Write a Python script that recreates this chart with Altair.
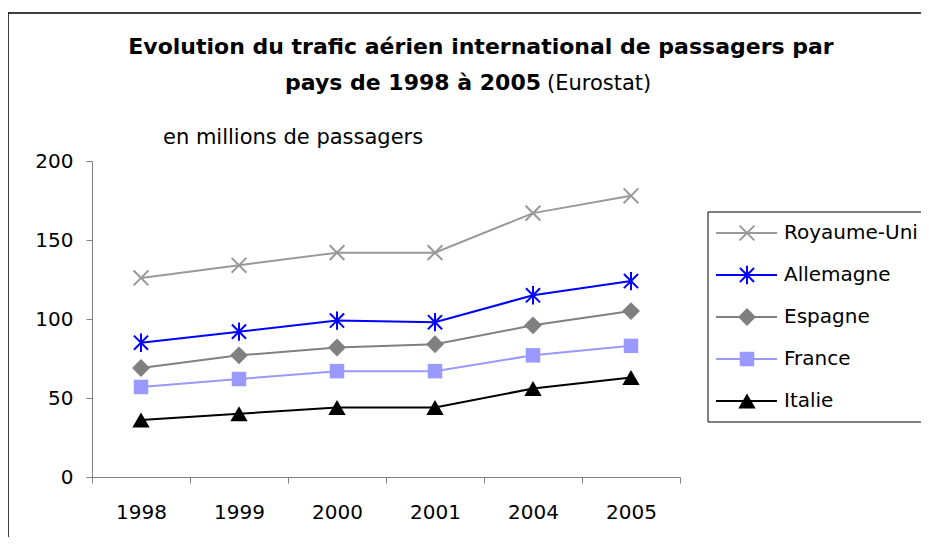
import altair as alt
import pandas as pd

years = ["1998", "1999", "2000", "2001", "2004", "2005"]
series = ["Royaume-Uni", "Allemagne", "Espagne", "France", "Italie"]
royaume_uni = [126, 134, 142, 142, 167, 178]
allemagne = [85, 92, 99, 98, 115, 124]
espagne = [69, 77, 82, 84, 96, 105]
france = [57, 62, 67, 67, 77, 83]
italie = [36, 40, 44, 44, 56, 63]

colors = ["#999999", "#0000FF", "#808080", "#9999FF", "#000000"]
shapes = [
    "M-1,-1L1,1M-1,1L1,-1",
    "M-1,-1L1,1M-1,1L1,-1M0,-1.3L0,1.3",
    "diamond",
    "square",
    "triangle-up",
]
sizes = [220, 200, 320, 210, 300]
filled = [False, False, True, True, True]

title_line1 = "Evolution du trafic aérien international de passagers par"
title_line2_bold = "pays de 1998 à 2005"
title_line2_normal = "(Eurostat)"
unit_label = "en millions de passagers"

values = [royaume_uni, allemagne, espagne, france, italie]
rows = []
for s, vals in zip(series, values):
    for y, v in zip(years, vals):
        rows.append({"year": y, "series": s, "value": v})
df = pd.DataFrame(rows)

legend_df = pd.DataFrame({"series": series, "row": list(range(len(series)))})

FONT = "DejaVu Sans"

color_enc = alt.Color("series:N", scale=alt.Scale(domain=series, range=colors), legend=None)

x_enc = alt.X(
    "year:O",
    sort=years,
    scale=alt.Scale(type="band", paddingInner=0, paddingOuter=0),
    axis=alt.Axis(title=None, labelAngle=0, tickBand="extent", tickSize=6, labelPadding=19),
)
y_enc = alt.Y(
    "value:Q",
    scale=alt.Scale(domain=[0, 200], nice=False),
    axis=alt.Axis(title=None, values=[0, 50, 100, 150, 200], tickSize=6, labelPadding=13),
)

base = alt.Chart(df).encode(x=x_enc, y=y_enc, color=color_enc)
lines = base.mark_line(strokeWidth=2)

leg_base = alt.Chart(legend_df).transform_calculate(py="72 + 42 * datum.row")
leg_y = alt.Y("py:Q", scale=None, axis=None)


def marker(chart, i):
    if filled[i]:
        return chart.mark_point(filled=True, opacity=1, strokeWidth=0, shape=shapes[i], size=sizes[i])
    return chart.mark_point(filled=False, opacity=1, strokeWidth=2, shape=shapes[i], size=sizes[i])


point_layers = []
legend_point_layers = []
for i, s in enumerate(series):
    flt = alt.FieldEqualPredicate(field="series", equal=s)
    point_layers.append(marker(base.transform_filter(flt), i))
    legend_point_layers.append(
        marker(leg_base.transform_filter(flt), i).encode(x=alt.value(655), y=leg_y, color=color_enc)
    )

one = alt.Data(values=[{}])

border = alt.Chart(one).mark_rect(fillOpacity=0, stroke="black", strokeWidth=1.5).encode(
    x=alt.value(-84), x2=alt.value(900), y=alt.value(-148), y2=alt.value(600)
)

t1 = alt.Chart(one).mark_text(
    text=title_line1, font=FONT, fontSize=22, fontWeight="bold", align="center", baseline="alphabetic"
).encode(x=alt.value(389), y=alt.value(-107))
t2a = alt.Chart(one).mark_text(
    text=title_line2_bold, font=FONT, fontSize=22, fontWeight="bold", align="right", baseline="alphabetic"
).encode(x=alt.value(449), y=alt.value(-71))
t2b = alt.Chart(one).mark_text(
    text=title_line2_normal, font=FONT, fontSize=21, align="left", baseline="alphabetic"
).encode(x=alt.value(455), y=alt.value(-71))
unit = alt.Chart(one).mark_text(
    text=unit_label, font=FONT, fontSize=21, align="left", baseline="alphabetic"
).encode(x=alt.value(71), y=alt.value(-17))

legend_box = alt.Chart(one).mark_rect(fillOpacity=0, stroke="black", strokeWidth=1).encode(
    x=alt.value(616), x2=alt.value(900), y=alt.value(51), y2=alt.value(261)
)

leg_lines = leg_base.mark_rule(strokeWidth=2).encode(
    x=alt.value(624), x2=alt.value(685), y=leg_y, color=color_enc
)
leg_text = leg_base.mark_text(
    font=FONT, fontSize=20, align="left", baseline="middle", color="black"
).encode(x=alt.value(692), y=leg_y, text="series:N")

chart = alt.layer(
    border, t1, t2a, t2b, unit,
    lines, *point_layers,
    legend_box, leg_lines, *legend_point_layers, leg_text,
).properties(
    width=588,
    height=316,
    autosize=alt.AutoSizeParams(type="none"),
    padding={"left": 84, "top": 153, "right": 241, "bottom": 60},
).configure_view(stroke=None).configure_axis(
    grid=False,
    labelFont=FONT,
    labelFontSize=20,
    labelColor="black",
    domainColor="#808080",
    tickColor="#808080",
    domainWidth=1,
    tickWidth=1,
)

chart.save("out.html", embed_options={"renderer": "svg", "actions": False})
